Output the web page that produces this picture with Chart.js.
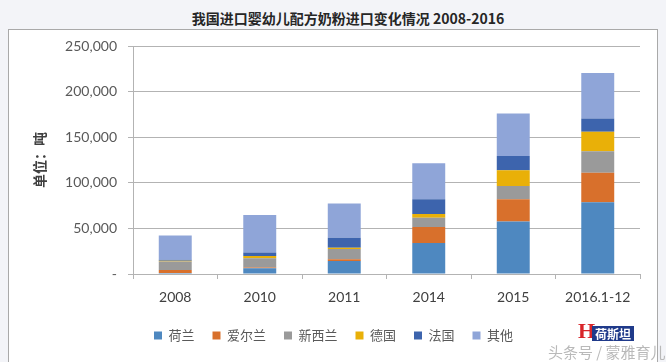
<!DOCTYPE html>
<html>
<head>
<meta charset="utf-8">
<script src="https://cdn.jsdelivr.net/npm/chart.js@4"></script>
<style>
  body { margin: 0; background: #f3f4f8; width: 666px; height: 362px; overflow: hidden; position: relative; }
  .titulo { position: absolute; left: 0; width: 696px; top: 8px; text-align: center;
    font: bold 14px "Noto Sans CJK SC", sans-serif; color: #262626; }
  .caja { position: absolute; left: 8px; top: 29px; width: 648px; height: 345px; background: #fff; border: 1px solid #a9a9a9; }
  canvas { position: absolute; left: 0; top: 0; }
  .marca { position: absolute; left: 548px; top: 341px; font: 15px "Noto Sans CJK SC", sans-serif; color: #b9b9b9; }
  .logo-h { position: absolute; left: 578px; top: 318px; font: bold 22px "Liberation Serif", serif; color: #d8252a; }
  .logo { position: absolute; left: 592px; top: 326px; background: #1f3a8a; color: #fff; font: bold 12px "Noto Sans CJK SC", sans-serif; padding: 0 3px; line-height: 15px; }
</style>
</head>
<body>
<div class="titulo">我国进口婴幼儿配方奶粉进口变化情况 2008-2016</div>
<div class="caja"></div>
<canvas id="grafico" width="666" height="362"></canvas>
<div class="logo-h">H</div>
<div class="logo">荷斯坦</div>
<div class="marca">头条号 / 蒙雅育儿</div>
<script>
  // Datos (toneladas)
  const categorias = ['2008', '2010', '2011', '2014', '2015', '2016.1-12'];
  const paises = ['荷兰', '爱尔兰', '新西兰', '德国', '法国', '其他'];
  const holanda = [1000, 6200, 14200, 33900, 57500, 78700];
  const irlanda = [3300, 1000, 2000, 17500, 24500, 32400];
  const nuevaZelanda = [9500, 10000, 11100, 10200, 14600, 23400];
  const alemania = [800, 2500, 1500, 4300, 17100, 21500];
  const francia = [1000, 4000, 10900, 16100, 15700, 14600];
  const otros = [26600, 40900, 37600, 39400, 46700, 49900];
  const colores = ['#4e88c0', '#d8702c', '#9a9a9a', '#e9b008', '#3d64ad', '#8fa5d8'];

  const series = [holanda, irlanda, nuevaZelanda, alemania, francia, otros];
  const gris = '#b3b3b3';

  const config = {
    type: 'bar',
    data: {
      labels: categorias,
      datasets: series.map((valores, i) => ({
        label: paises[i],
        data: valores,
        backgroundColor: colores[i],
        borderWidth: 0,
        categoryPercentage: 1,
        barPercentage: 0.39
      }))
    },
    options: {
      responsive: false,
      animation: false,
      devicePixelRatio: 1,
      layout: { padding: { left: 27, right: 26, top: 46, bottom: 10 } },
      plugins: {
        tooltip: { enabled: false },
        legend: {
          position: 'bottom',
          labels: {
            boxWidth: 8, boxHeight: 8, padding: 18,
            color: '#595959',
            font: { family: '"Noto Sans CJK SC", sans-serif', size: 13 }
          }
        }
      },
      scales: {
        x: {
          stacked: true,
          grid: { offset: true, drawOnChartArea: false, drawTicks: true, tickLength: 5, color: gris },
          border: { color: gris },
          ticks: { color: '#404040', padding: 10, font: { family: 'Lato', size: 14 } },
          afterFit: function(scale) { scale.height = 37; }
        },
        y: {
          stacked: true,
          min: 0, max: 250000,
          grid: { color: gris, tickLength: 5 },
          border: { color: gris },
          ticks: {
            stepSize: 50000, padding: 11, color: '#595959',
            font: { family: 'Lato', size: 14 },
            callback: v => v === 0 ? '-' : v.toLocaleString('en-US')
          },
          title: {
            display: true, text: '单位：吨', color: '#404040',
            font: { family: '"Noto Sans CJK SC", sans-serif', size: 14, weight: 'bold' }
          },
          afterFit: function(scale) { scale.width = 106; }
        }
      }
    }
  };

  new Chart(document.getElementById('grafico').getContext('2d'), config);
</script>
</body>
</html>
